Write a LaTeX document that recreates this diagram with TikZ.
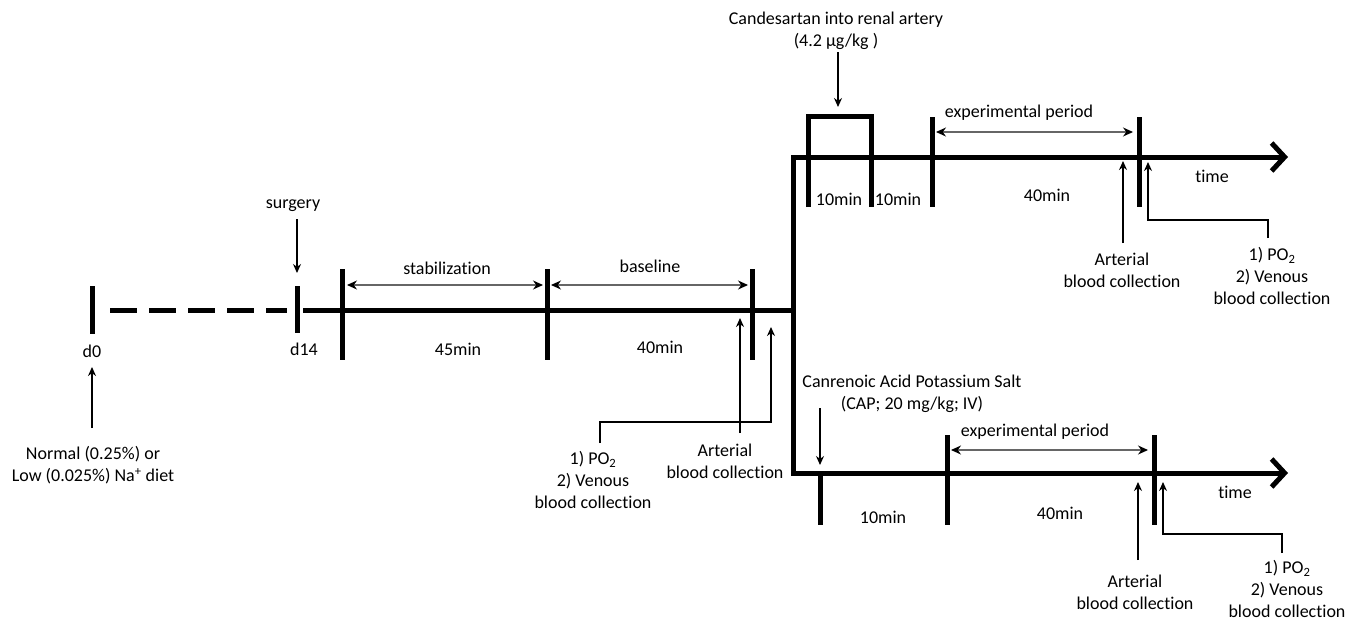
\documentclass[tikz,border=0pt]{standalone}
\usepackage{fontspec}
\setmainfont{Carlito}[Ligatures=NoCommon]
\usetikzlibrary{arrows.meta}
\begin{document}
\begin{tikzpicture}[x=1pt,y=-1pt,
  heavy/.style={line width=5pt,line join=miter},
  thinarr/.style={line width=1.4pt,-{Stealth[length=9pt,width=8pt]}},
  dblarr/.style={line width=1.1pt,draw=black!60,{Stealth[length=10pt,width=9pt,black]}-{Stealth[length=10pt,width=9pt,black]}},
  lbl/.style={font=\fontsize{18}{22}\selectfont,inner sep=0pt,align=center},
  bigtip/.style={{Straight Barb[length=13pt,width=28pt]}-{Straight Barb[length=13pt,width=28pt]}}
]
\useasboundingbox (0,0) rectangle (1349,621);
% ---------- coordinates ----------
\coordinate (d0t) at (92,286);   \coordinate (d0b) at (92,334);
\coordinate (dashA) at (110,310); \coordinate (dashB) at (287,310);
\coordinate (d14t) at (297,286); \coordinate (d14b) at (297,333);
\coordinate (mainA) at (303,310); \coordinate (junc) at (793,310);
\coordinate (jTop) at (793,157); \coordinate (jBot) at (793,473);
\coordinate (topEnd) at (1288,157); \coordinate (botEnd) at (1288,473);
\coordinate (s1t) at (342,269); \coordinate (s1b) at (342,360);
\coordinate (s2t) at (547,269); \coordinate (s2b) at (547,360);
\coordinate (s3t) at (752,269); \coordinate (s3b) at (752,360);
\coordinate (stabL) at (347,285); \coordinate (stabR) at (543,285);
\coordinate (baseL) at (551,285); \coordinate (baseR) at (748,285);
\coordinate (surgA) at (297,219); \coordinate (surgB) at (297,273);
\coordinate (dietA) at (92,428); \coordinate (dietB) at (92,367);
\coordinate (artA) at (740,433); \coordinate (artB) at (740,318);
\coordinate (poA) at (600,443); \coordinate (poC1) at (600,422);
\coordinate (poC2) at (771,422); \coordinate (poB) at (771,327);
% top branch
\coordinate (bx1) at (808,207); \coordinate (bx2) at (808,116);
\coordinate (bx3) at (871,116); \coordinate (bx4) at (871,207);
\coordinate (e1t) at (932,117); \coordinate (e1b) at (932,207);
\coordinate (e2t) at (1139,117); \coordinate (e2b) at (1139,207);
\coordinate (candA) at (838,52); \coordinate (candB) at (838,107);
\coordinate (expL) at (936,132); \coordinate (expR) at (1133,132);
\coordinate (tartA) at (1123,243); \coordinate (tartB) at (1123,161);
\coordinate (tpoA) at (1268,238); \coordinate (tpoC1) at (1268,220);
\coordinate (tpoC2) at (1148,220); \coordinate (tpoB) at (1148,162);
% bottom branch
\coordinate (b1t) at (820,473); \coordinate (b1b) at (820,525);
\coordinate (b2t) at (947,435); \coordinate (b2b) at (947,525);
\coordinate (b3t) at (1154,435); \coordinate (b3b) at (1154,525);
\coordinate (capA) at (820,408); \coordinate (capB) at (820,465);
\coordinate (bexpL) at (951,450); \coordinate (bexpR) at (1148,450);
\coordinate (bartA) at (1138,560); \coordinate (bartB) at (1138,482);
\coordinate (bpoA) at (1282,553); \coordinate (bpoC1) at (1282,534);
\coordinate (bpoC2) at (1163,534); \coordinate (bpoB) at (1163,482);
% ---------- heavy lines ----------
\draw[heavy] (d0t) -- (d0b);
\draw[heavy,dash pattern=on 27pt off 12pt] (dashA) -- (dashB);
\draw[heavy] (d14t) -- (d14b);
\draw[heavy] (mainA) -- (junc);
\draw[heavy,bigtip] (topEnd) -- (jTop) -- (jBot) -- (botEnd);
\foreach \a/\b in {s1t/s1b,s2t/s2b,s3t/s3b,e1t/e1b,e2t/e2b,b1t/b1b,b2t/b2b,b3t/b3b}
  \draw[heavy] (\a) -- (\b);
\draw[heavy] (bx1) -- (bx2) -- (bx3) -- (bx4);
% ---------- thin arrows ----------
\draw[dblarr] (stabL) -- (stabR);
\draw[dblarr] (baseL) -- (baseR);
\draw[dblarr] (expL) -- (expR);
\draw[dblarr] (bexpL) -- (bexpR);
\draw[thinarr] (surgA) -- (surgB);
\draw[thinarr] (dietA) -- (dietB);
\draw[thinarr] (artA) -- (artB);
\draw[thinarr] (poA) -- (poC1) -- (poC2) -- (poB);
\draw[thinarr] (candA) -- (candB);
\draw[thinarr] (tartA) -- (tartB);
\draw[thinarr] (tpoA) -- (tpoC1) -- (tpoC2) -- (tpoB);
\draw[thinarr] (capA) -- (capB);
\draw[thinarr] (bartA) -- (bartB);
\draw[thinarr] (bpoA) -- (bpoC1) -- (bpoC2) -- (bpoB);
% ---------- labels ----------
\node[lbl] (ld0) at (92,351) {d0};
\node[lbl] (ld14) at (304,349) {d14};
\node[lbl] (lsurg) at (293,206) {surgery};
\node[lbl] (ldiet) at (93,465) {Normal (0.25\%) or\\Low (0.025\%) Na\textsuperscript{+} diet};
\node[lbl] (lstab) at (447,268) {stabilization};
\node[lbl] (lbase) at (650,266) {baseline};
\node[lbl] (l45) at (458,349) {45min};
\node[lbl] (l40a) at (660,347) {40min};
\node[lbl] (lart1) at (725,461) {Arterial\\blood collection};
\node[lbl] (lpo1) at (593,480) {1) PO\textsubscript{2}\\2) Venous\\blood collection};
\node[lbl] (lcand) at (836,31) {Candesartan into renal artery\\(4.2 µg/kg )};
\node[lbl] (l10a) at (839,199) {10min};
\node[lbl] (l10b) at (898,199) {10min};
\node[lbl] (l40b) at (1047,195) {40min};
\node[lbl] (lexp1) at (1019,113) {experimental period};
\node[lbl] (ltime1) at (1212,176) {time};
\node[lbl] (lart2) at (1122,270) {Arterial\\blood collection};
\node[lbl] (lpo2) at (1272,276) {1) PO\textsubscript{2}\\2) Venous\\blood collection};
\node[lbl] (lcap) at (912,394) {Canrenoic Acid Potassium Salt\\(CAP; 20 mg/kg; IV)};
\node[lbl] (lexp2) at (1035,432) {experimental period};
\node[lbl] (l10c) at (883,517) {10min};
\node[lbl] (l40c) at (1060,513) {40min};
\node[lbl] (ltime2) at (1235,492) {time};
\node[lbl] (lart3) at (1135,592) {Arterial\\blood collection};
\node[lbl] (lpo3) at (1287,589) {1) PO\textsubscript{2}\\2) Venous\\blood collection};
\end{tikzpicture}
\end{document}
